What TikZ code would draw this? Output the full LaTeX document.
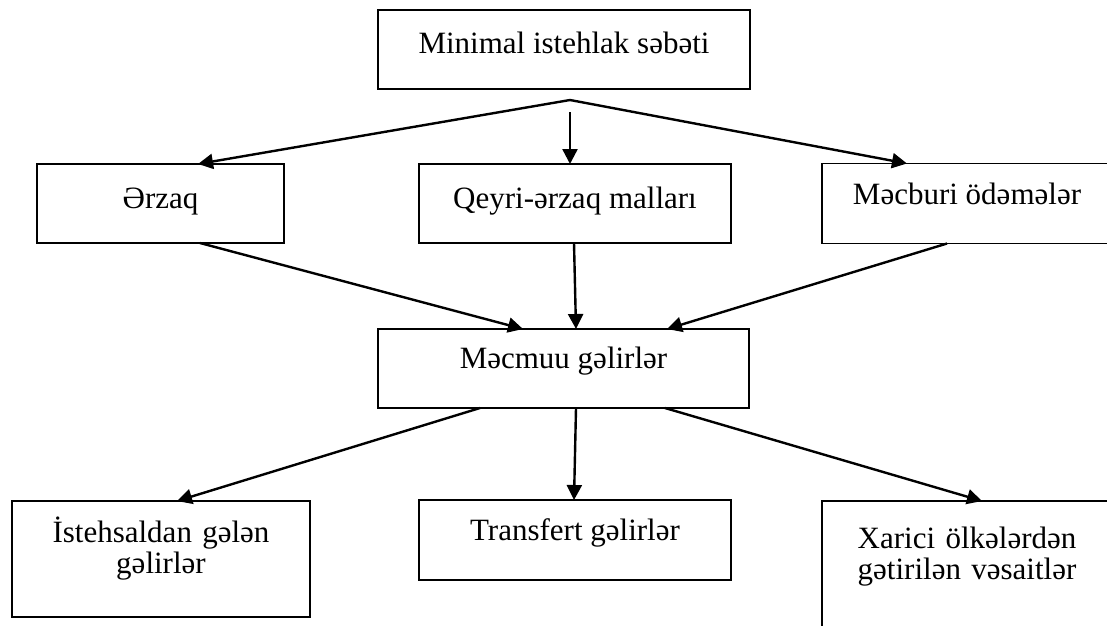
\documentclass[tikz,border=0pt]{standalone}
\usepackage{fontspec}
\setmainfont{Liberation Serif}
\usetikzlibrary{positioning,arrows.meta}

\begin{document}
\begin{tikzpicture}[x=1pt,y=-1pt,->,>={Triangle[length=15pt,width=15pt]},line width=2.4pt,
  font=\fontsize{31}{31}\selectfont,
  box/.style={draw,line width=1.8pt,inner sep=0pt,outer sep=0pt,align=center}]
\useasboundingbox (0,0) rectangle (1107,625);
\clip (0,0) rectangle (1107,625);

%% Top
\node (Min) [box,minimum width=372pt,text height=43pt,text depth=36pt,anchor=north] at (564,10)
        {Minimal istehlak səbəti};
\coordinate (split) at (570,100);
\coordinate (splitdown) at (570,112);

%% Spending groups
\node (Qeyri) [box,below=75pt of Min,xshift=11pt,minimum width=312pt,text height=44pt,text depth=35pt]
        {Qeyri-ərzaq malları};
\node (Erzaq) [box,left=135pt of Qeyri,minimum width=247pt,text height=44pt,text depth=35pt]
        {Ərzaq};
\node (Mecburi) [box,right=91pt of Qeyri,minimum width=290pt,text height=41pt,text depth=39pt]
        {Məcburi ödəmələr};

\draw (split) -- ([xshift=37.5pt]Erzaq.north);
\draw (splitdown) -- ([xshift=-5pt]Qeyri.north);
\draw (split) -- ([xshift=-60pt]Mecburi.north);

%% Total income
\node (Mecmuu) [box,below=86pt of Qeyri,xshift=-11.5pt,minimum width=371pt,text height=39pt,text depth=40pt]
        {Məcmuu gəlirlər};

\draw ([xshift=39.5pt]Erzaq.south) -- ([xshift=-40.5pt]Mecmuu.north);
\draw ([xshift=-1pt]Qeyri.south) -- ([xshift=12.5pt]Mecmuu.north);
\draw ([xshift=-20pt]Mecburi.south) -- ([xshift=103.5pt]Mecmuu.north);

%% Income sources
\node (Transfert) [box,below=92pt of Mecmuu,xshift=11.5pt,minimum width=312pt,text height=40pt,text depth=40pt]
        {Transfert gəlirlər};
\node (Istehsal) [box,anchor=north,text width=298pt,text height=41pt,text depth=75pt] at (161,501)
        {İstehsaldan gələn\\ gəlirlər};
\node (Xarici) [box,anchor=north west,text width=290pt,text height=47pt,text depth=83pt] at (822,501)
        {Xarici ölkələrdən\\ gətirilən vəsaitlər};

\draw ([xshift=-83.5pt]Mecmuu.south) -- ([xshift=16pt]Istehsal.north);
\draw ([xshift=12.5pt]Mecmuu.south) -- ([xshift=-1pt]Transfert.north);
\draw ([xshift=101.5pt]Mecmuu.south) -- ([xshift=15pt]Xarici.north);
\end{tikzpicture}
\end{document}
